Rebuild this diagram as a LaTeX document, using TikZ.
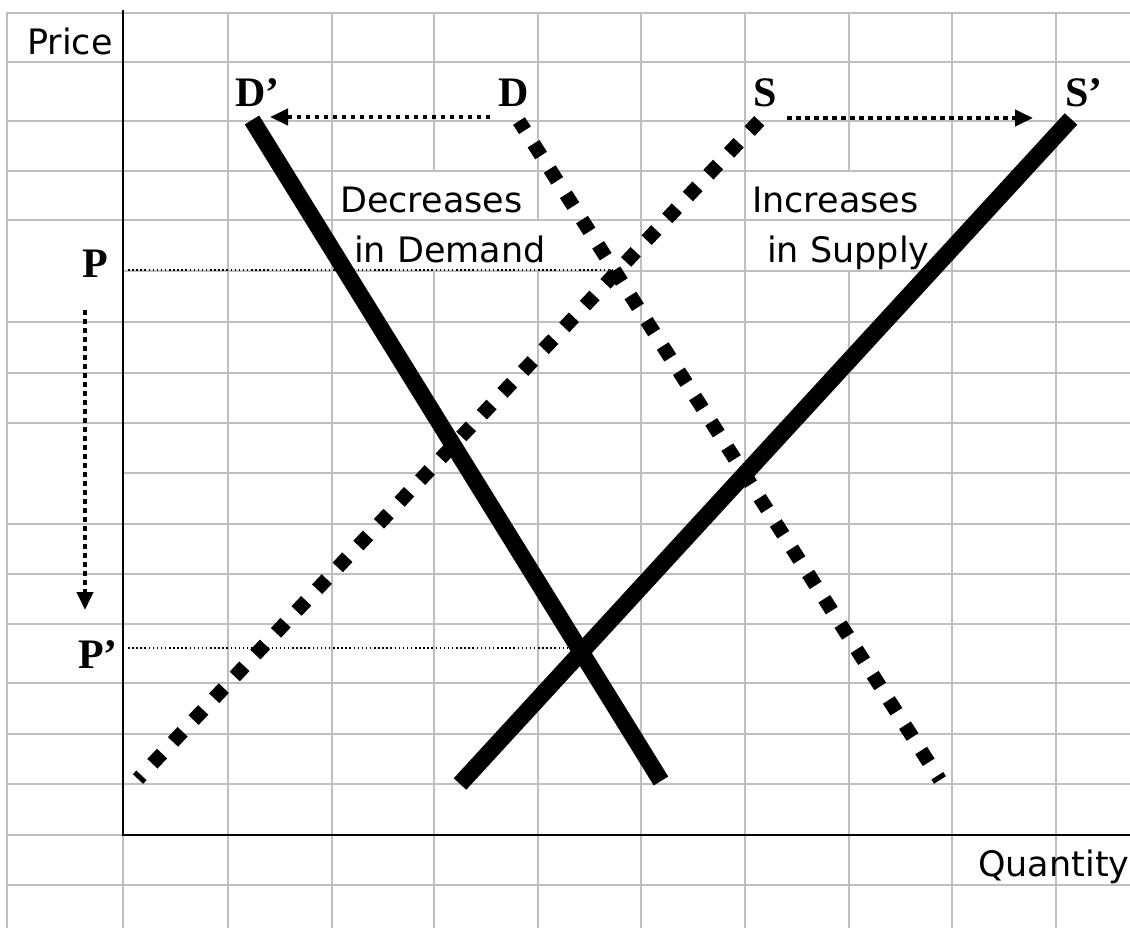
\documentclass[tikz,border=0pt]{standalone}
\usepackage{fontspec}
\setmainfont{Liberation Serif}
\newfontfamily\cellfont{DejaVu Sans}
\usepackage{tikz}
\usetikzlibrary{arrows.meta}

\begin{document}
\begin{tikzpicture}[x=1pt, y=-1pt,
  gridline/.style={draw=black!25, line width=2pt, line cap=rect},
  axis/.style={draw=black, line width=2.6pt},
  curve/.style={draw=black, line width=17pt},
  oldcurve/.style={draw=black, line width=14pt, dash pattern=on 14pt off 16pt, dash phase=9pt},
  guide/.style={draw=black, line width=1.5pt, dash pattern=on 1.5pt off 2.6pt},
  shiftarrow/.style={draw=black, line width=4pt, dash pattern=on 4.5pt off 4.5pt, -{Triangle[length=18pt, width=16pt]}},
  curvelabel/.style={font=\fontsize{42}{44}\selectfont\bfseries, inner sep=0pt, anchor=base west},
  celltext/.style={font=\cellfont\fontsize{35}{40}\selectfont, inner sep=0pt, anchor=base west}]

\useasboundingbox (0,0) rectangle (1130,928);
\fill[white] (0,0) rectangle (1130,928);

\foreach \gx in {7,123,228,332,641,745,952,1056}
  \draw[gridline] (\gx,13) -- (\gx,928);
\draw[gridline] (434,13) -- (434,171) (434,271) -- (434,928);
\draw[gridline] (538,13) -- (538,220) (538,271) -- (538,928);
\draw[gridline] (849,13) -- (849,171) (849,271) -- (849,928);
\foreach \gy in {13,62,121,171,220,322,373,423,524,574,624,683,734,784,835,885}
  \draw[gridline] (7,\gy) -- (1130,\gy);
\foreach \gy in {271,473}
  \draw[gridline] (123,\gy) -- (1130,\gy);

\draw[axis] (123,10) -- (123,835) -- (1130,835);

\coordinate (P line) at (128,270);
\coordinate (E old) at (614,270);
\coordinate (Pp line) at (128,648);
\coordinate (E new) at (567,648);
\draw[guide] (P line) -- (E old);
\draw[guide] (Pp line) -- (E new);

\coordinate (S low) at (138,779);
\coordinate (S high) at (762,118);
\coordinate (D low) at (940,780);
\coordinate (D high) at (519,121);
\coordinate (Dp high) at (252,120);
\coordinate (Dp low) at (661,781);
\coordinate (Sp low) at (460,784);
\coordinate (Sp high) at (1071,119);

\draw[oldcurve] (S low) -- (S high);
\draw[oldcurve] (D low) -- (D high);
\draw[curve] (Dp high) -- (Dp low);
\draw[curve] (Sp low) -- (Sp high);

\node[celltext] (price) at (27,55) {Price};
\node[celltext] (quantity) at (978,876) {Quantity};
\node[celltext] (dec top) at (340,213) {Decreases};
\node[celltext] (dec bot) at (354,262) {in Demand};
\node[celltext] (inc top) at (752,213) {Increases};
\node[celltext] (inc bot) at (767,262) {in Supply};

\node[curvelabel] (Dp) at (235,107) {D'};
\node[curvelabel] (D) at (498,107) {D};
\node[curvelabel] (S) at (753,107) {S};
\node[curvelabel] (Sp) at (1065,107) {S'};
\node[curvelabel] (P) at (82,277) {P};
\node[curvelabel] (Pp) at (78,668) {P'};

\coordinate (dshift from) at (490,117);
\coordinate (dshift to) at (270,117);
\coordinate (sshift from) at (787,118);
\coordinate (sshift to) at (1033,118);
\coordinate (pshift from) at (85,310);
\coordinate (pshift to) at (85,610);
\draw[shiftarrow] (dshift from) -- (dshift to);
\draw[shiftarrow] (sshift from) -- (sshift to);
\draw[shiftarrow] (pshift from) -- (pshift to);
\end{tikzpicture}
\end{document}
